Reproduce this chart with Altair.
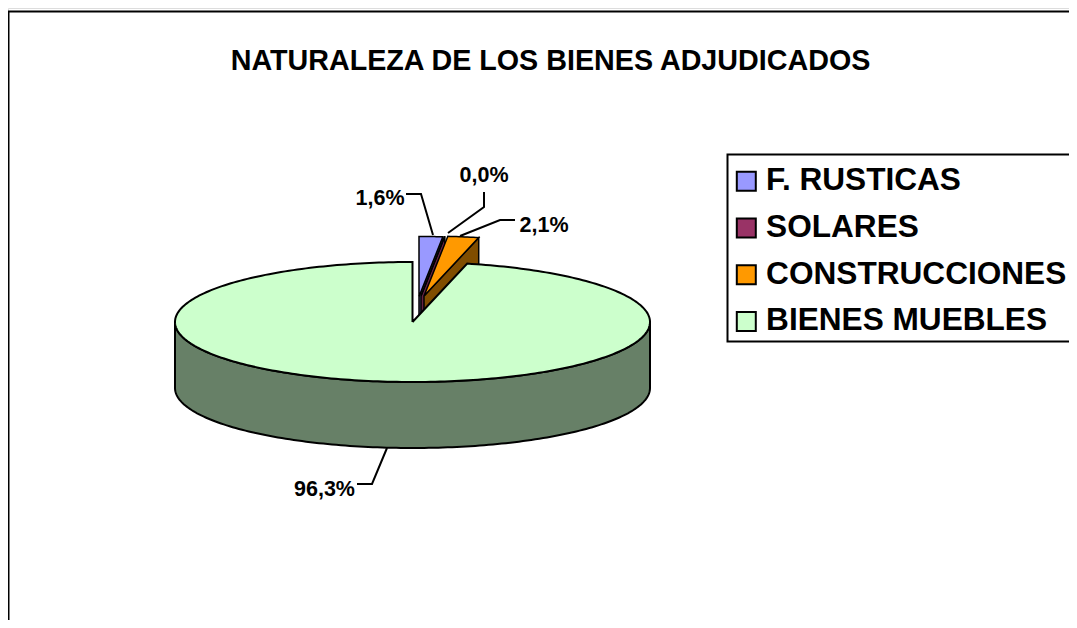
import numpy as np
import pandas as pd
import altair as alt

title_text = "NATURALEZA DE LOS BIENES ADJUDICADOS"
names = ["F. RUSTICAS", "SOLARES", "CONSTRUCCIONES", "BIENES MUEBLES"]
shares = [1.6, 0.0, 2.1, 96.3]
top_colors = ["#9999FF", "#993366", "#FF9900", "#CCFFCC"]
wall_colors = ["#666699", "#662244", "#804D00", "#678067"]
offsets_x = [6.5, 8.5, 11.5, 0.0]
offsets_y = [-25.5, -26.0, -26.0, 0.0]

FONT = "Liberation Sans"
CX, CY, RX, RY, DEPTH = 412.5, 322.0, 237.5, 60.0, 66.0
W, H = 1061, 612

x_scale = alt.Scale(domain=[8, 8 + W], range=[0, W], nice=False, zero=False)
y_scale = alt.Scale(domain=[8 + H, 8], range=[H, 0], nice=False, zero=False)
X = alt.X("x:Q", scale=x_scale, axis=None)
Y = alt.Y("y:Q", scale=y_scale, axis=None)


def frame(xs, ys, serie=""):
    return pd.DataFrame({"x": xs, "y": ys, "i": range(len(xs)), "serie": serie})


def poly(df, fill=None, sw=2):
    enc = dict(x=X, y=Y, order=alt.Order("i:Q"))
    if fill is None:
        enc["fill"] = alt.Fill(
            "serie:N",
            scale=alt.Scale(domain=names, range=top_colors),
            legend=alt.Legend(
                title=None, orient="none", legendX=727 - 8, legendY=158 - 8,
                symbolType="square", symbolSize=361, symbolStrokeColor="black",
                symbolStrokeWidth=2, labelFont=FONT, labelFontSize=31.6,
                labelFontWeight="bold", labelColor="black", labelOffset=4,
                rowPadding=13.7, padding=7.5, symbolOffset=-4,
                symbolOpacity=1, labelLimit=500,
            ),
        )
        return alt.Chart(df).mark_line(stroke="black", strokeWidth=sw, filled=True, clip=False).encode(**enc)
    return alt.Chart(df).mark_line(stroke="black", strokeWidth=sw, fill=fill, filled=True).encode(**enc)


layers = []
edges = np.cumsum([0.0] + shares) / 100 * 2 * np.pi
for k, name in enumerate(names[:3]):
    a0, a1 = edges[k], edges[k + 1]
    ox, oy = CX + offsets_x[k], CY + offsets_y[k]
    ang = np.linspace(a0, a1, 12)
    ex, ey = ox + RX * np.sin(ang), oy - RY * np.cos(ang)
    wx = [ox, ex[-1], ex[-1], ox, ox]
    wy = [oy, ey[-1], ey[-1] + DEPTH, oy + DEPTH, oy]
    layers.append(poly(frame(wx, wy), fill=wall_colors[k], sw=1.5))
    tx = [ox, *ex, ox]
    ty = [oy, *ey, oy]
    layers.append(poly(frame(tx, ty, name), sw=1.5))

ang = np.linspace(np.pi / 2, 3 * np.pi / 2, 160)
ex, ey = CX + RX * np.sin(ang), CY - RY * np.cos(ang)
wx = [*ex, *ex[::-1], ex[0]]
wy = [*ey, *(ey[::-1] + DEPTH), ey[0]]
layers.append(poly(frame(wx, wy), fill=wall_colors[3]))
ang = np.linspace(edges[3], edges[4], 300)
ex, ey = CX + RX * np.sin(ang), CY - RY * np.cos(ang)
layers.append(poly(frame([CX, *ex, CX], [CY, *ey, CY], names[3])))

leaders = [
    ([406, 421, 433], [194, 194, 235]),
    ([484, 484, 448], [192, 207, 233]),
    ([515, 500, 460], [220, 220, 236]),
    ([357, 372, 387], [484, 484, 448]),
]
for lx, ly in leaders:
    layers.append(
        alt.Chart(frame(lx, ly)).mark_line(stroke="black", strokeWidth=2)
        .encode(x=X, y=Y, order=alt.Order("i:Q"))
    )

label_x = [380, 484, 544, 324.5]
label_y = [198.5, 176, 226, 489.5]
labels = pd.DataFrame({
    "x": label_x, "y": label_y,
    "t": [f"{s:.1f}%".replace(".", ",") for s in shares],
})
layers.append(
    alt.Chart(labels).mark_text(font=FONT, fontSize=21.5, fontWeight="bold", color="black", baseline="middle")
    .encode(x=X, y=Y, text="t:N")
)

layers.append(
    alt.Chart(pd.DataFrame({"x": [550.5], "y": [61], "t": [title_text]}))
    .mark_text(font=FONT, fontSize=28.7, fontWeight="bold", color="black", baseline="middle")
    .encode(x=X, y=Y, text="t:N")
)

layers.append(
    alt.Chart(frame([8.5, 8.5, 8 + W], [8 + H, 11.5, 11.5])).mark_line(stroke="black", strokeWidth=2)
    .encode(x=X, y=Y, order=alt.Order("i:Q"))
)

# legend box, running off the right edge as in the source
layers.append(
    alt.Chart(frame([1090, 727.5, 727.5, 1090], [154.5, 154.5, 341.5, 341.5]))
    .mark_line(stroke="black", strokeWidth=2, fill="white", filled=True, clip=True)
    .encode(x=X, y=Y, order=alt.Order("i:Q"))
)

chart = (
    alt.layer(*layers)
    .properties(width=W, height=H, padding=0, autosize=alt.AutoSizeParams(type="none"))
    .configure_view(stroke=None)
    .configure(background="white")
)
chart.save("out.html", embed_options={"renderer": "svg", "actions": False})
